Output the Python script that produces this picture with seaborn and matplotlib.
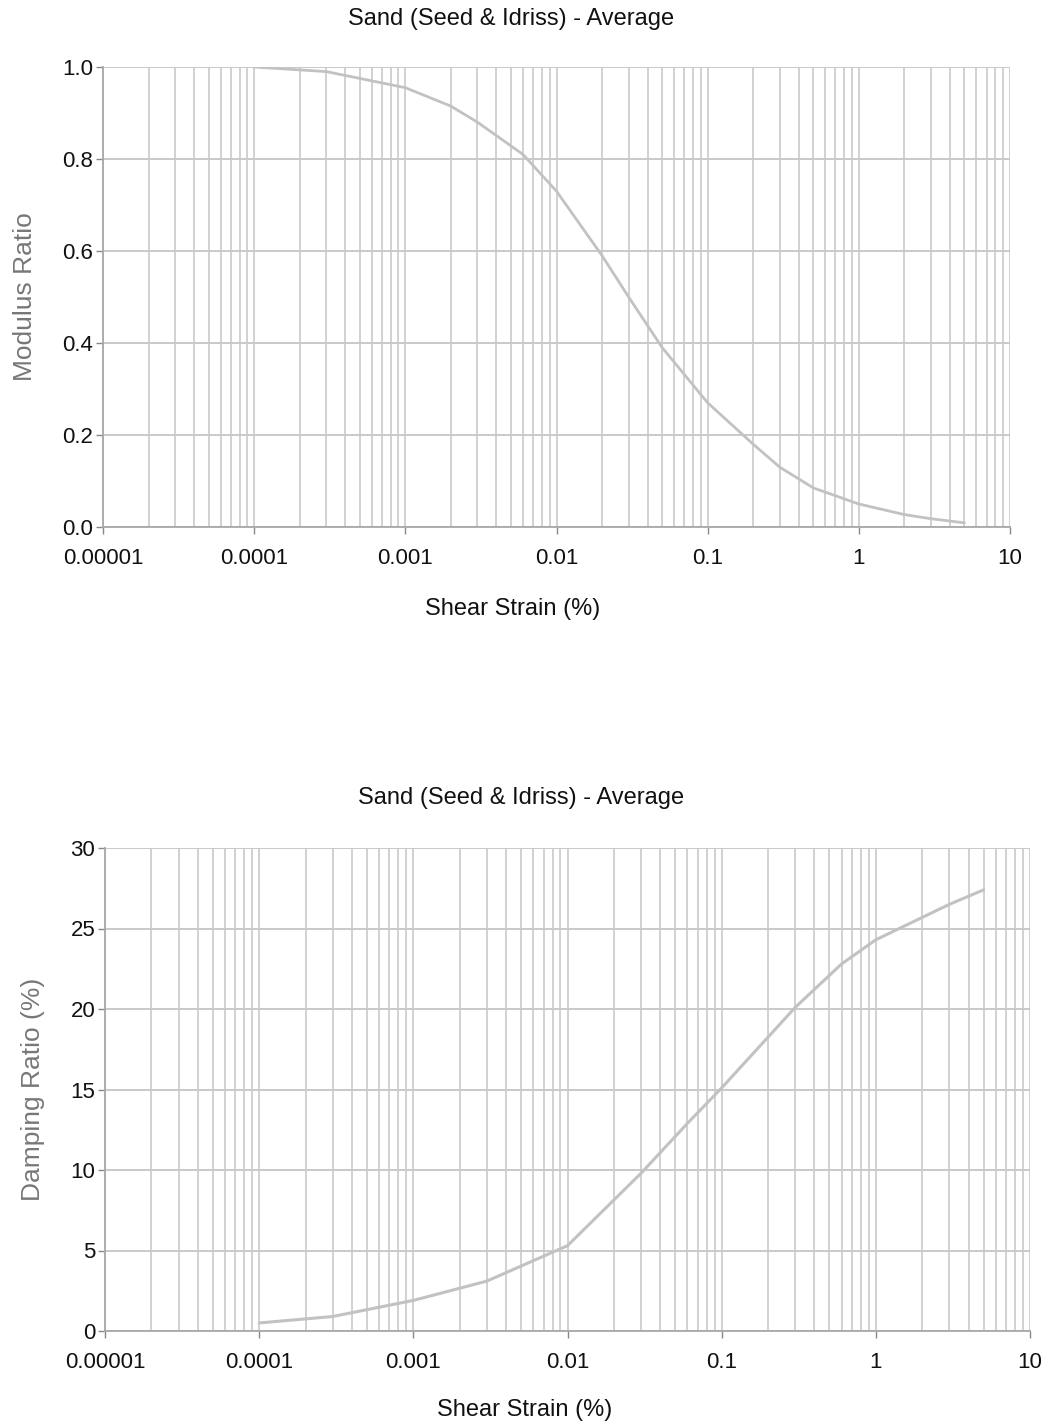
import matplotlib
matplotlib.use("Agg")
import matplotlib.pyplot as plt
import seaborn as sns
import pandas as pd
import numpy as np
from matplotlib.ticker import LogLocator, FixedLocator, NullFormatter

# ---- data ----
title = "Sand (Seed & Idriss) - Average"
xlabel = "Shear Strain (%)"
x_ticks = [0.00001, 0.0001, 0.001, 0.01, 0.1, 1, 10]
x_tick_labels = ["0.00001", "0.0001", "0.001", "0.01", "0.1", "1", "10"]

mod_strain = [0.0001, 0.0003, 0.001, 0.002, 0.003, 0.006, 0.01, 0.02, 0.03, 0.05,
              0.1, 0.2, 0.3, 0.5, 1, 2, 3, 5]
mod_ratio = [1.0, 0.99, 0.955, 0.915, 0.88, 0.81, 0.73, 0.59, 0.50, 0.39,
             0.27, 0.18, 0.13, 0.085, 0.05, 0.027, 0.018, 0.009]

damp_strain = [0.0001, 0.0003, 0.001, 0.003, 0.01, 0.03, 0.06, 0.1, 0.3, 0.6, 1, 3, 5]
damp_ratio = [0.5, 0.9, 1.9, 3.1, 5.3, 9.8, 12.9, 15.1, 20.1, 22.8, 24.3, 26.5, 27.4]

mod_yticks = [0.0, 0.2, 0.4, 0.6, 0.8, 1.0]
damp_yticks = [0, 5, 10, 15, 20, 25, 30]

# ---- style ----
sns.set_theme(style="white")
plt.rcParams['font.family'] = ['Liberation Sans Narrow', 'Liberation Sans', 'DejaVu Sans']

W, H = 1051, 1427
fig = plt.figure(figsize=(W / 100, H / 100), dpi=100)

def px_axes(l, r, t, b):
    return fig.add_axes([l / W, 1 - b / H, (r - l) / W, (b - t) / H])

def px_text(x, y, s, **kw):
    fig.text(x / W, 1 - y / H, s, ha="center", va="center", **kw)

ax1 = px_axes(103, 1010, 67, 527)
ax2 = px_axes(105, 1030, 848, 1331)

df_mod = pd.DataFrame({"strain": mod_strain, "ratio": mod_ratio})
df_damp = pd.DataFrame({"strain": damp_strain, "ratio": damp_ratio})

line_col = "#c2c2c2"
grid_col = "#c9c9c9"
text_col = "#111111"

sns.lineplot(data=df_mod, x="strain", y="ratio", ax=ax1, color=line_col, linewidth=2.0)
sns.lineplot(data=df_damp, x="strain", y="ratio", ax=ax2, color=line_col, linewidth=2.2)

for ax, yt, ylim, ylab, yfmt in [
    (ax1, mod_yticks, (0, 1.0), "Modulus Ratio", "{:.1f}"),
    (ax2, damp_yticks, (0, 30), "Damping Ratio (%)", "{:g}"),
]:
    ax.set_xscale("log")
    ax.set_xlim(1e-5, 10)
    ax.set_ylim(*ylim)
    ax.xaxis.set_major_locator(FixedLocator(x_ticks))
    ax.set_xticklabels(x_tick_labels)
    ax.xaxis.set_minor_locator(LogLocator(base=10, subs=np.arange(2, 10), numticks=20))
    ax.xaxis.set_minor_formatter(NullFormatter())
    ax.set_yticks(yt)
    ax.set_yticklabels([yfmt.format(v) for v in yt])
    ax.grid(True, which="both", axis="x", color=grid_col, linewidth=1.2)
    ax.grid(True, which="major", axis="y", color=grid_col, linewidth=1.4)
    ax.set_axisbelow(True)
    for s in ["top", "right"]:
        ax.spines[s].set_visible(False)
    for s in ["left", "bottom"]:
        ax.spines[s].set_color("#a8a8a8")
        ax.spines[s].set_linewidth(1.3)
    ax.tick_params(axis="both", which="major", labelsize=16, colors="#888888",
                   labelcolor=text_col, length=5, width=1, direction="out",
                   left=True, bottom=True, pad=2)
    ax.tick_params(axis="x", which="major", pad=10)
    ax.tick_params(axis="x", which="minor", length=0)
    ax.set_xlabel("")
    ax.set_ylabel(ylab, fontsize=19, color="#777777", labelpad=18)

px_text(511, 19, title, fontsize=17, color=text_col)
px_text(513, 609, xlabel, fontsize=17, color=text_col)
px_text(521, 798, title, fontsize=17, color=text_col)
px_text(525, 1410, xlabel, fontsize=17, color=text_col)

fig.savefig("out.png", dpi=100, facecolor="white")
